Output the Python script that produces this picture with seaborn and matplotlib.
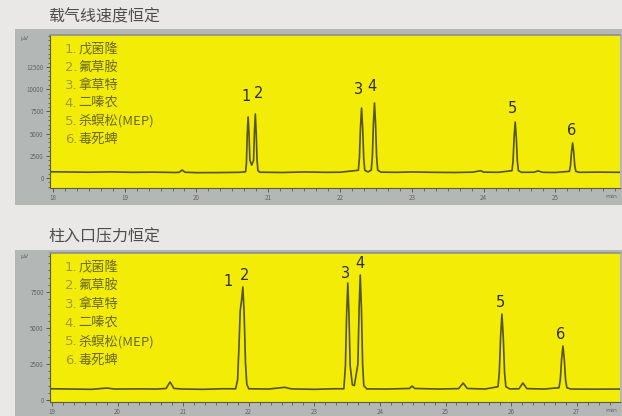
import matplotlib
matplotlib.use("Agg")
import matplotlib.pyplot as plt
from matplotlib.patches import Rectangle
from matplotlib.ticker import MultipleLocator
import seaborn as sns

# panel titles and compound names
titles = ["载气线速度恒定", "柱入口压力恒定"]
compounds = ["戊菌隆", "氟草胺", "拿草特", "二嗪农", "杀螟松(MEP)", "毒死蜱"]

# trace (min, µV)
top_t = [17.96, 18.2, 18.5, 18.8, 19.1, 19.4, 19.7, 19.76, 19.80, 19.84, 20.0, 20.3, 20.6,
         20.684, 20.696, 20.708, 20.72, 20.732, 20.744, 20.77, 20.796, 20.808, 20.82, 20.832, 20.844, 20.856, 20.88,
         21.2, 21.5, 21.8, 22.0,
         22.255, 22.27, 22.285, 22.30, 22.315, 22.33, 22.345, 22.39,
         22.435, 22.45, 22.465, 22.48, 22.495, 22.51, 22.525, 22.57,
         22.8, 23.0, 23.3, 23.6, 23.85, 23.96, 24.0, 24.2,
         24.395, 24.41, 24.425, 24.44, 24.455, 24.47, 24.485, 24.53,
         24.7, 24.76, 24.82, 25.0,
         25.195, 25.21, 25.225, 25.24, 25.255, 25.27, 25.285, 25.33, 25.6, 25.9]
top_v = [700, 680, 650, 690, 640, 660, 620, 640, 900, 650, 600, 610, 640,
         700, 1600, 5000, 6870, 5000, 2000, 1450, 2000, 5200, 7200, 5200, 2100, 850, 650,
         620, 680, 640, 650,
         870, 2240, 5710, 7880, 5710, 2240, 870, 680,
         885, 2365, 6110, 8450, 6110, 2365, 885, 660,
         640, 680, 640, 620, 660, 820, 660, 640,
         820, 1890, 4600, 6300, 4600, 1890, 820, 640,
         650, 800, 640, 620,
         750, 1370, 2950, 3940, 2950, 1370, 750, 640, 660, 640]

# trace (min, µV)
bot_t = [18.97, 19.3, 19.6, 19.84, 19.95, 20.3, 20.6, 20.74, 20.80, 20.86, 21.0, 21.3, 21.6,
         21.80, 21.83, 21.85, 21.87, 21.89, 21.91, 21.93, 21.95, 21.97, 22.0,
         22.3, 22.55, 22.65, 23.0, 23.3, 23.45,
         23.474, 23.492, 23.51, 23.528, 23.546, 23.58, 23.61,
         23.664, 23.682, 23.70, 23.718, 23.736, 23.754, 23.80,
         24.1, 24.45, 24.49, 24.53, 24.9, 25.2, 25.27, 25.33, 25.6,
         25.80, 25.82, 25.84, 25.86, 25.88, 25.90, 25.92, 25.98,
         26.12, 26.18, 26.24, 26.5,
         26.73, 26.75, 26.77, 26.79, 26.81, 26.83, 26.85, 26.91, 27.2, 27.66]
bot_v = [780, 760, 740, 830, 760, 770, 760, 800, 1250, 800, 760, 740, 780,
         780, 1400, 3600, 6200, 6900, 7850, 6000, 2600, 1100, 780,
         760, 880, 770, 740, 780, 780,
         2380, 5920, 8125, 5920, 2380, 1050, 1000,
         2500, 6300, 8680, 6300, 2500, 1000, 770,
         760, 800, 970, 800, 760, 790, 1180, 800, 760,
         920, 1910, 4400, 5970, 4400, 1910, 920, 770,
         780, 1180, 790, 760,
         850, 1420, 2850, 3750, 2850, 1420, 850, 760, 750, 760]

# numbered peak apexes (min, µV)
top_peak_t = [20.72, 20.82, 22.30, 22.48, 24.44, 25.24]
top_peak_v = [6870, 7200, 7880, 8450, 6300, 3940]
bot_peak_t = [21.87, 21.91, 23.51, 23.70, 25.86, 26.79]
bot_peak_v = [6900, 7850, 8125, 8680, 5970, 3750]

top_xticks = [18, 19, 20, 21, 22, 23, 24, 25]
top_yticks = [0, 2500, 5000, 7500, 10000, 12500]
bot_xticks = [19, 20, 21, 22, 23, 24, 25, 26, 27]
bot_yticks = [0, 2500, 5000, 7500]

BG = "#e9e8e6"
FRAME = "#b3b8b7"
YELLOW = "#f2ec06"
TRACE = "#55541c"
NUM = "#a09e30"
LEG = "#6c6a1c"

sns.set_style("ticks")
plt.rcParams["font.family"] = ["Noto Sans CJK SC", "DejaVu Sans"]

fig = plt.figure(figsize=(6.22, 4.16), dpi=100, facecolor=BG)

fig.add_artist(Rectangle((15 / 622, 1 - 205 / 416), 607 / 622, 176 / 416,
                         transform=fig.transFigure, facecolor=FRAME, edgecolor="none", zorder=-5))
fig.add_artist(Rectangle((15 / 622, 0), 607 / 622, 166 / 416,
                         transform=fig.transFigure, facecolor=FRAME, edgecolor="none", zorder=-5))

panels = [
    dict(rect=[50 / 622, 1 - 188 / 416, 570 / 622, 153 / 416], t=top_t, v=top_v,
         pt=top_peak_t, pv=top_peak_v, xlim=(17.96, 25.9), ylim=(-1126, 16100),
         xt=top_xticks, yt=top_yticks, title_y=1 - 17 / 416, line_step=0.117,
         offsets=[(-1.5, 15), (2, 15), (-2.5, 13), (-1.5, 12), (-2, 10), (-1, 9)]),
    dict(rect=[50 / 622, 1 - 402 / 416, 570 / 622, 149 / 416], t=bot_t, v=bot_v,
         pt=bot_peak_t, pv=bot_peak_v, xlim=(18.97, 27.66), ylim=(-140, 10210),
         xt=bot_xticks, yt=bot_yticks, title_y=1 - 237 / 416, line_step=0.125,
         offsets=[(-9, 14), (1.5, 8), (-2, 7), (0, 8), (-1, 8), (-2, 8)]),
]

for i, p in enumerate(panels):
    ax = fig.add_axes(p["rect"])
    ax.set_facecolor(YELLOW)
    sns.lineplot(x=p["t"], y=p["v"], ax=ax, color=TRACE, linewidth=1.2, estimator=None, sort=False)
    ax.set_xlim(*p["xlim"])
    ax.set_ylim(*p["ylim"])
    ax.set_xticks(p["xt"])
    ax.set_yticks(p["yt"])
    ax.set_xticklabels([str(x) for x in p["xt"]])
    ax.set_yticklabels([str(y) for y in p["yt"]])
    ax.xaxis.set_minor_locator(MultipleLocator(1 / 6))
    ax.yaxis.set_minor_locator(MultipleLocator(500))
    ax.tick_params(axis="both", which="major", direction="out", length=3, width=0.7,
                   colors="#5a5a4a", labelsize=4.5, labelcolor="#636363", pad=1.5)
    ax.tick_params(axis="both", which="minor", direction="out", length=1.8, width=0.6, colors="#5a5a4a")
    for side in ["left", "bottom"]:
        ax.spines[side].set_color("#5e5d3a")
        ax.spines[side].set_linewidth(0.8)
    ax.spines["top"].set_color("#8f918a")
    ax.spines["top"].set_linewidth(1.2)
    ax.spines["right"].set_visible(False)
    ax.set_xlabel("")
    ax.set_ylabel("")

    ax.text(-0.044, 0.975, "μV", transform=ax.transAxes, fontsize=4.5, color="#636363",
            ha="center", va="center", family="DejaVu Sans")
    ax.text(0.985, -0.058, "min", transform=ax.transAxes, fontsize=4.5, color="#636363",
            ha="center", va="center", family="DejaVu Sans")

    fig.text(48 / 622, p["title_y"], titles[i], fontsize=11.5, color="#4d4d4d", ha="left", va="center")

    for k, name in enumerate(compounds):
        y = 0.905 - k * p["line_step"]
        ax.text(0.026, y, f"{k + 1}.", transform=ax.transAxes,
                fontsize=9.5, color=NUM, ha="left", va="center", family="DejaVu Sans")
        ax.text(0.05, y, name, transform=ax.transAxes,
                fontsize=9.5, color=LEG, ha="left", va="center")

    for k, (x, y) in enumerate(zip(p["pt"], p["pv"])):
        dx, dy = p["offsets"][k]
        ax.annotate(str(k + 1), (x, y), xytext=(dx, dy), textcoords="offset points",
                    fontsize=10.5, color="#2f2f2a", ha="center", va="center", family="DejaVu Sans")

fig.savefig("out.png", dpi=100, facecolor=BG)
